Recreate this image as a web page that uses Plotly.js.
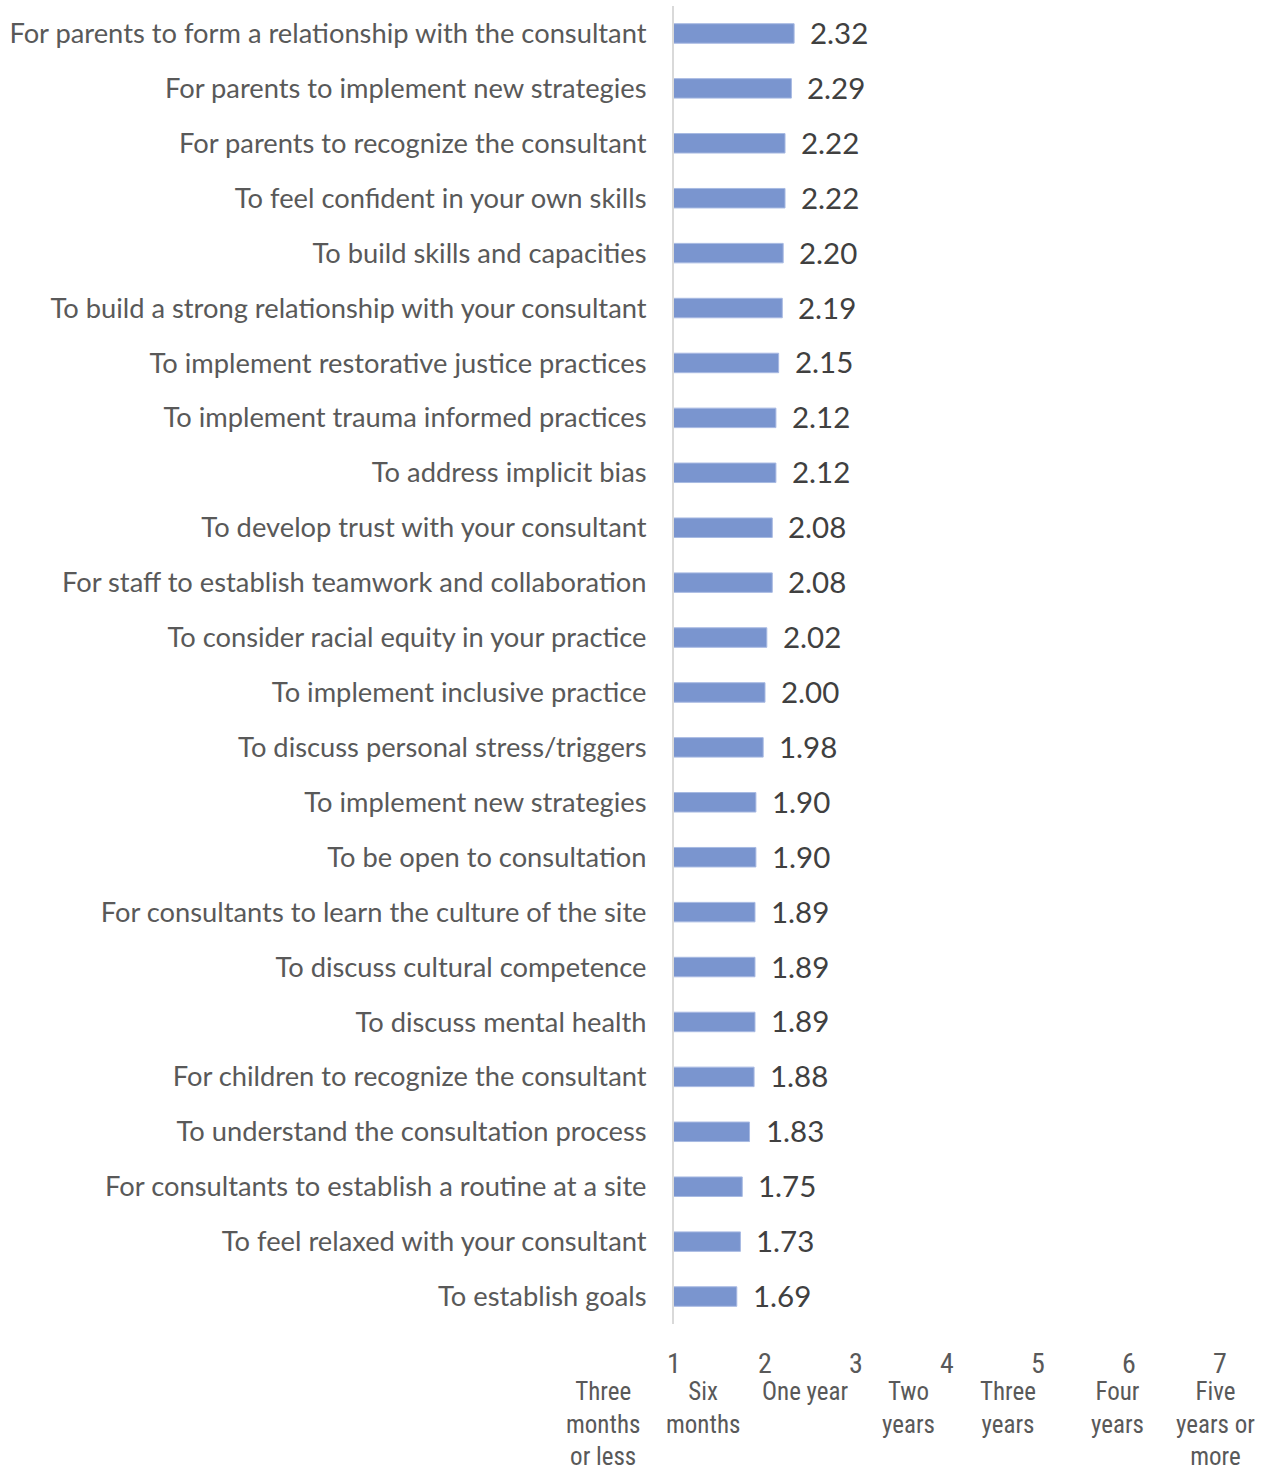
<!DOCTYPE html>
<html><head><meta charset="utf-8">
<script src="https://cdn.plot.ly/plotly-3.0.1.min.js"></script>
<style>body{margin:0;background:#fff}#chart{width:1275px;height:1468px}</style>
</head><body><div id="chart"></div>
<script>
const categories = [
"For parents to form a relationship with the consultant",
"For parents to implement new strategies",
"For parents to recognize the consultant",
"To feel confident in your own skills",
"To build skills and capacities",
"To build a strong relationship with your consultant",
"To implement restorative justice practices",
"To implement trauma informed practices",
"To address implicit bias",
"To develop trust with your consultant",
"For staff to establish teamwork and collaboration",
"To consider racial equity in your practice",
"To implement inclusive practice",
"To discuss personal stress/triggers",
"To implement new strategies",
"To be open to consultation",
"For consultants to learn the culture of the site",
"To discuss cultural competence",
"To discuss mental health",
"For children to recognize the consultant",
"To understand the consultation process",
"For consultants to establish a routine at a site",
"To feel relaxed with your consultant",
"To establish goals"
];
const values = [2.32,2.29,2.22,2.22,2.20,2.19,2.15,2.12,2.12,2.08,2.08,2.02,2.00,1.98,1.90,1.90,1.89,1.89,1.89,1.88,1.83,1.75,1.73,1.69];
const tickValues = [1,2,3,4,5,6,7];
const scaleLabels = ["Three<br>months<br>or less","Six<br>months","One year","Two<br>years","Three<br>years","Four<br>years","Five<br>years or<br>more"];
const scaleLabelX = [0.22,1.32,2.45,3.58,4.67,5.87,6.95];

const xMin = 1, xMax = 7;
const labelFont = "Lato, 'Open Sans', sans-serif";
const narrowFont = "'Liberation Sans Narrow', 'Roboto Condensed', 'DejaVu Sans Condensed', sans-serif";

const annotations = values.map((v,i)=>({
  x: v, y: categories[i], xref:'x', yref:'y', text: v.toFixed(2),
  xanchor:'left', yanchor:'middle', xshift: 14, yshift: 1, showarrow:false,
  font:{family: labelFont, size: 29.5, color:'#404040'}
}));
scaleLabels.forEach((t,i)=>annotations.push({
  x: (scaleLabelX[i]-xMin)/(xMax-xMin), y: -0.039, xref:'paper', yref:'paper', text: t,
  xanchor:'center', yanchor:'top', showarrow:false, align:'center',
  font:{family: narrowFont, size: 25, color:'#595959'}
}));

Plotly.newPlot('chart', [{
  type:'bar', orientation:'h', y: categories, x: values,
  marker:{color:'#7a95cf', line:{color:'#a7b9e2', width:1}},
  hoverinfo:'skip'
}], {
  width:1275, height:1468,
  margin:{l:674, r:55, t:6, b:144},
  paper_bgcolor:'#fff', plot_bgcolor:'#fff',
  bargap:0.645, showlegend:false,
  xaxis:{range:[xMin,xMax], tickvals:tickValues, showgrid:false, zeroline:false, showline:false,
    ticks:'', ticklabelstandoff:20,
    tickfont:{family: narrowFont, size:28, color:'#595959'}},
  yaxis:{autorange:'reversed', showgrid:false, zeroline:false, showline:true, linecolor:'#d9d9d9', linewidth:2,
    ticks:'', ticklabelstandoff:20,
    tickfont:{family: labelFont, size:27.3, color:'#595959'}},
  annotations: annotations
}, {staticPlot:true});
</script></body></html>
